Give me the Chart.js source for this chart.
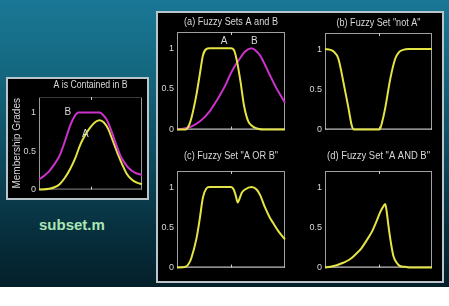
<!DOCTYPE html>
<html><head><meta charset="utf-8">
<script src="https://cdn.jsdelivr.net/npm/chart.js@4/dist/chart.umd.min.js"></script>
<style>
html,body{margin:0;padding:0;width:449px;height:306px;overflow:hidden;background:#fff;}
#bg{position:absolute;left:0;top:0;width:449px;height:287px;background:linear-gradient(180deg,#1a7896 0%,#14677f 25%,#0d4a5e 55%,#07303e 80%,#041f29 100%);}
.panel{position:absolute;background:#000;border:2px solid #b9c5ca;box-sizing:border-box;}
canvas{position:absolute;}
#sub{position:absolute;left:39px;top:216px;font:bold 15px "Liberation Sans",Arial,sans-serif;color:#a9e6b4;}
</style></head><body>
<div id="bg"></div>
<div class="panel" style="left:6px;top:77px;width:143px;height:123px"></div>
<div class="panel" style="left:156px;top:11px;width:288px;height:272px"></div>
<div id="sub">subset.m</div>
<canvas id="c0"></canvas><canvas id="c1"></canvas><canvas id="c2"></canvas><canvas id="c3"></canvas><canvas id="c4"></canvas>
<script>
// ---- data ----
const yTicks = [0, 0.5, 1];
const xMid = [50];

const leftAx = [0, 10, 15, 20, 25, 30, 35, 40, 45, 50, 55, 59, 63, 67, 72, 76, 80, 85, 90, 95, 100];
const leftAy = [0, 0.01, 0.03, 0.07, 0.15, 0.26, 0.40, 0.58, 0.71, 0.81, 0.88, 0.90, 0.87, 0.79, 0.62, 0.48, 0.35, 0.21, 0.13, 0.09, 0.07];
const leftBx = [0, 5, 10, 15, 20, 25, 30, 35, 38, 45, 52, 59, 62, 66, 70, 75, 79, 83, 87, 93, 100];
const leftBy = [0.13, 0.18, 0.24, 0.33, 0.44, 0.62, 0.82, 0.96, 1.0, 1.0, 1.0, 1.0, 0.97, 0.90, 0.77, 0.58, 0.44, 0.35, 0.28, 0.22, 0.19];

const setAx = [0, 8, 11, 13.3, 18, 21, 24, 27, 30, 50, 53, 55.7, 58.8, 62, 66, 70, 75, 80, 100];
const setAy = [0, 0, 0.05, 0.14, 0.43, 0.67, 0.91, 0.99, 1, 1, 0.97, 0.83, 0.59, 0.30, 0.10, 0.04, 0.01, 0, 0];
const setBx = [0, 9, 15, 21, 26, 30, 35, 40, 45, 49, 53, 57, 63, 69, 73, 77, 81, 84.5, 89, 92, 96, 100];
const setBy = [0, 0.02, 0.05, 0.10, 0.16, 0.22, 0.32, 0.43, 0.55, 0.67, 0.77, 0.85, 0.96, 1.0, 0.97, 0.91, 0.81, 0.71, 0.59, 0.51, 0.42, 0.33];

const notAx = [0, 5, 8, 12.5, 17.2, 21.9, 25, 27, 51, 53.5, 56.3, 61, 65.6, 69, 73, 78, 100];
const notAy = [1, 0.99, 0.97, 0.88, 0.59, 0.27, 0.05, 0, 0, 0.10, 0.27, 0.63, 0.88, 0.96, 0.99, 1, 1];

const orX = [0, 8, 11, 13.3, 18, 21, 24, 27, 30, 50, 52.5, 54.5, 56.2, 58, 60, 63, 69, 73.7, 77, 81.4, 86, 89.2, 94, 100];
const orY = [0, 0.01, 0.05, 0.12, 0.36, 0.60, 0.87, 0.98, 1, 1, 0.97, 0.89, 0.81, 0.86, 0.93, 0.97, 1, 0.97, 0.90, 0.75, 0.62, 0.55, 0.45, 0.35];

const andX = [0, 5, 11, 17, 23, 29, 34, 39, 44, 48, 51.6, 55, 56.3, 57.6, 59.5, 61.7, 64, 67, 70, 75, 80, 100];
const andY = [0, 0.01, 0.03, 0.06, 0.10, 0.17, 0.24, 0.34, 0.45, 0.57, 0.69, 0.77, 0.79, 0.70, 0.50, 0.30, 0.14, 0.06, 0.02, 0.01, 0, 0];

const titles = ['A is Contained in B', '(a) Fuzzy Sets A and B', '(b) Fuzzy Set "not A"', '(c) Fuzzy Set "A OR B"', '(d) Fuzzy Set "A AND B"'];
const yLabel = 'Membership Grades';

// ---- styling ----
const YEL = '#e4e444', MAG = '#cc33cc', TXT = '#d8d8d8';
const FONT = '"Liberation Sans", Arial, sans-serif';

const pts = (xs, ys) => xs.map((x, i) => ({x, y: ys[i]}));
const line = (xs, ys, c) => ({data: pts(xs, ys), borderColor: c, borderWidth: 2, pointRadius: 0,
  cubicInterpolationMode: 'monotone', clip: false, fill: false});

const decor = {
  id: 'decor',
  beforeDatasetsDraw(chart, args, o) {
    const {ctx, chartArea: a, scales: {x, y}} = chart;
    ctx.save();
    ctx.lineWidth = 1;
    ctx.strokeStyle = o.sideColor;
    ctx.beginPath();
    ctx.moveTo(a.left + 0.5, a.top); ctx.lineTo(a.left + 0.5, a.bottom);
    ctx.moveTo(a.right - 0.5, a.top); ctx.lineTo(a.right - 0.5, a.bottom);
    ctx.stroke();
    ctx.strokeStyle = o.topColor;
    ctx.beginPath(); ctx.moveTo(a.left, a.top + 0.5); ctx.lineTo(a.right, a.top + 0.5); ctx.stroke();
    ctx.strokeStyle = o.bottomColor;
    ctx.beginPath(); ctx.moveTo(a.left, a.bottom - 0.5); ctx.lineTo(a.right, a.bottom - 0.5); ctx.stroke();
    ctx.strokeStyle = '#cfcfcf';
    ctx.beginPath();
    xMid.forEach(v => {
      const px = Math.round(x.getPixelForValue(v)) + 0.5;
      ctx.moveTo(px, a.top); ctx.lineTo(px, a.top + 3);
      ctx.moveTo(px, a.bottom); ctx.lineTo(px, a.bottom - 3);
    });
    ctx.stroke();
    ctx.restore();
  },
  afterDraw(chart, args, o) {
    const {ctx, chartArea: a, scales: {x, y}} = chart;
    ctx.save();
    ctx.fillStyle = TXT;
    ctx.textAlign = 'center';
    ctx.textBaseline = 'middle';
    ctx.font = '10px ' + FONT;
    ctx.fillText(o.title, (a.left + a.right) / 2, o.titleY, o.titleW);
    (o.labels || []).forEach(l => {
      ctx.fillText(l.t, x.getPixelForValue(l.x), y.getPixelForValue(l.y));
    });
    if (o.ylabel) {
      ctx.translate(o.ylabelX, (a.top + a.bottom) / 2);
      ctx.rotate(-Math.PI / 2);
      ctx.fillText(o.ylabel, 0, 0, a.bottom - a.top);
    }
    ctx.restore();
  }
};

function makeChart(id, area, datasets, opts) {
  const PL = 36, PT = 26, PR = 6, PB = 6;
  const cv = document.getElementById(id);
  const w = area[2] - area[0], h = area[3] - area[1];
  cv.width = w + PL + PR; cv.height = h + PT + PB;
  cv.style.left = (area[0] - PL) + 'px';
  cv.style.top = (area[1] - PT) + 'px';
  opts.titleY = opts.titleY - (area[1] - PT);
  if (opts.ylabelX !== undefined) opts.ylabelX = opts.ylabelX - (area[0] - PL);
  return new Chart(cv, {
    type: 'line',
    data: {datasets},
    plugins: [decor],
    options: {
      responsive: false, animation: false, devicePixelRatio: 1,
      layout: {padding: {left: 0, top: PT, right: PR, bottom: PB}},
      plugins: {legend: {display: false}, tooltip: {enabled: false}, title: {display: false}, decor: opts},
      scales: {
        x: {type: 'linear', min: 0, max: 100, display: false},
        y: {type: 'linear', min: 0, max: 1.2,
            afterFit(s) { s.width = PL; },
            afterBuildTicks(s) { s.ticks = yTicks.map(v => ({value: v})); },
            grid: {display: false, drawTicks: false}, border: {display: false},
            ticks: {color: TXT, font: {size: 9, family: FONT}, padding: 3, callback: v => String(v)}}
      }
    }
  });
}

makeChart('c0', [39, 97, 142, 192],
  [line(leftBx, leftBy, MAG), line(leftAx, leftAy, YEL)],
  {title: titles[0], titleY: 85, titleW: 74, sideColor: '#9a9a9a', topColor: '#3a3a3a', bottomColor: '#8a8a8a',
   labels: [{t: 'B', x: 28, y: 1.0}, {t: 'A', x: 45, y: 0.72}], ylabel: yLabel, ylabelX: 17});
makeChart('c1', [177, 32, 285, 132],
  [line(setAx, setAy, YEL), line(setBx, setBy, MAG)],
  {title: titles[1], titleY: 22, titleW: 94, sideColor: '#a0a0a0', topColor: '#a0a0a0', bottomColor: '#f0f0f0',
   labels: [{t: 'A', x: 43.5, y: 1.09}, {t: 'B', x: 71.6, y: 1.09}]});
makeChart('c2', [325, 33, 432, 132],
  [line(notAx, notAy, YEL)],
  {title: titles[2], titleY: 23, titleW: 84, sideColor: '#a0a0a0', topColor: '#a0a0a0', bottomColor: '#f0f0f0'});
makeChart('c3', [177, 171, 285, 270],
  [line(orX, orY, YEL)],
  {title: titles[3], titleY: 156, titleW: 94, sideColor: '#a0a0a0', topColor: '#a0a0a0', bottomColor: '#f0f0f0'});
makeChart('c4', [325, 171, 432, 270],
  [line(andX, andY, YEL)],
  {title: titles[4], titleY: 156, titleW: 103, sideColor: '#a0a0a0', topColor: '#a0a0a0', bottomColor: '#f0f0f0'});
</script>
</body></html>
